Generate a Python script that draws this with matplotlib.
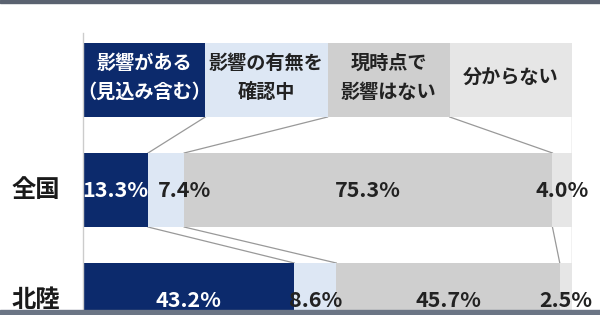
import numpy as np
import matplotlib
matplotlib.use("Agg")
import matplotlib.pyplot as plt
from matplotlib.patches import Rectangle

plt.rcParams['font.family'] = ['Noto Sans CJK JP', 'DejaVu Sans']

# data
legend_labels = ["影響がある\n（見込み含む）", "影響の有無を\n確認中", "現時点で\n影響はない", "分からない"]
regions = ["全国", "北陸"]
have_impact = [13.3, 43.2]
checking = [7.4, 8.6]
no_impact = [75.3, 45.7]
unknown = [4.0, 2.5]

colors = ["#0c2a6c", "#dde7f4", "#cfcfcf", "#e6e6e6"]
text_colors = ["white", "#222222", "#222222", "#222222"]

series = np.array([have_impact, checking, no_impact, unknown]).T  # rows x segments
legend_row = np.full(4, 25.0)
rows = np.vstack([legend_row, series])
y = np.arange(len(rows))
h = 0.673

fig = plt.figure(figsize=(6, 3.15), dpi=100)
ax = fig.add_axes([83 / 600, 0, 489 / 600, 282 / 315])
ax.set_xlim(0, 100)
ax.set_ylim(2.136, -0.427)

lefts = np.zeros(len(rows))
for k in range(4):
    ax.barh(y, rows[:, k], left=lefts, height=h, color=colors[k], edgecolor="none", zorder=2)
    lefts = lefts + rows[:, k]

# legend texts inside the header row
cum_leg = np.cumsum(legend_row)
for k, lab in enumerate(legend_labels):
    ax.text(cum_leg[k] - legend_row[k] / 2, -0.02, lab, ha="center", va="center",
            fontsize=13.8, fontweight="bold", color=text_colors[k], linespacing=1.65, zorder=3)

# value labels
offsets = {(0, 1): 3.8}
for i in range(len(regions)):
    cum = np.cumsum(series[i])
    for k in range(4):
        xc = cum[k] - series[i][k] / 2 + offsets.get((i, k), 0)
        ax.text(xc, i + 1, f"{series[i][k]:.1f}%", ha="center", va="center",
                fontsize=15.5, fontweight="bold", color=text_colors[k], zorder=3)

# category labels
for i, r in enumerate(regions):
    ax.text(-4.8, i + 1, r, ha="right", va="center", fontsize=17.5, fontweight="bold",
            color="#1a1a1a", clip_on=False)

# connector lines between rows
for i in range(len(rows) - 1):
    c0 = np.cumsum(rows[i])
    c1 = np.cumsum(rows[i + 1])
    for k in range(4):
        ax.plot([c0[k], c1[k]], [i + h / 2, i + 1 - h / 2], color="#999999", lw=0.9, zorder=1)

for s in ["top", "right", "bottom"]:
    ax.spines[s].set_visible(False)
ax.spines["left"].set_color("#cccccc")
ax.spines["left"].set_linewidth(1.0)
ax.set_xticks([])
ax.set_yticks([])
ax.patch.set_alpha(0)

# screenshot border strips
fig.patches.append(Rectangle((0, 1 - 3 / 315), 1, 3 / 315, transform=fig.transFigure,
                             color="#5a6270", zorder=0))
fig.patches.append(Rectangle((0, 0), 1, 5 / 315, transform=fig.transFigure,
                             color="#6b7585", zorder=5))

fig.savefig("out.png", dpi=100)
